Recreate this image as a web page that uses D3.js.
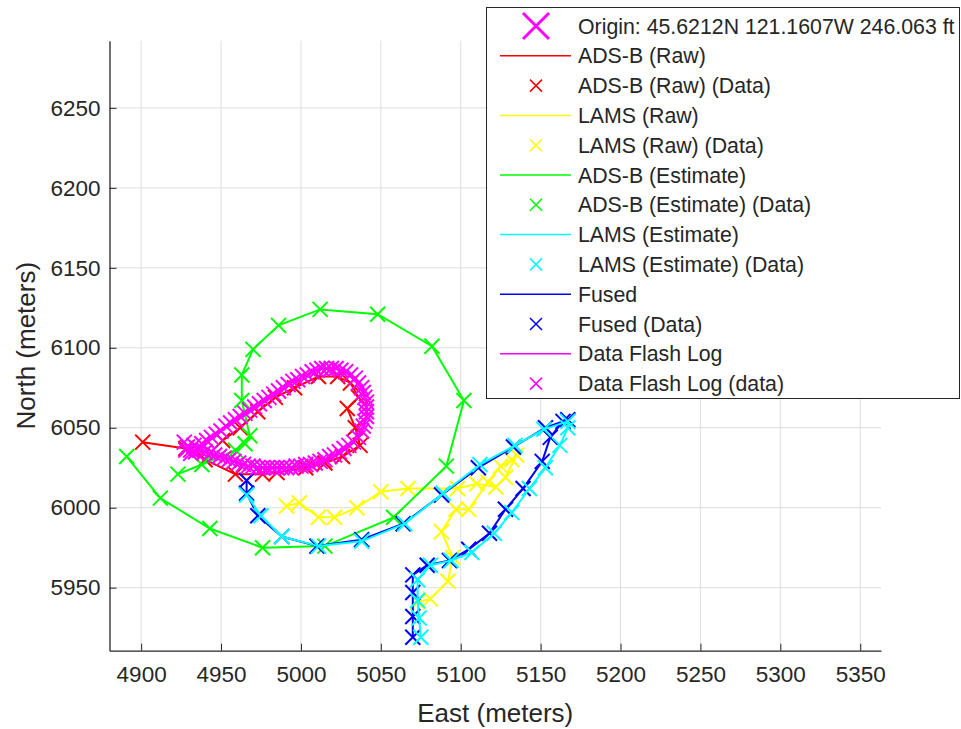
<!DOCTYPE html>
<html>
<head>
<meta charset="utf-8">
<script src="https://cdn.jsdelivr.net/npm/d3@7"></script>
<style>
  body { margin: 0; background: #fff; }
  svg { font-family: "Liberation Sans", Arial, sans-serif; }
</style>
</head>
<body>
<div id="chart"></div>
<script>
// values (east, north in meters)
var adsbRaw = [[4901,6041],[4928,6037],[4940,6030],[4959,6021],[4976,6021],[4985,6022],[5003,6025],[5015,6028],[5026,6032],[5037,6039],[5034,6050],[5029,6062],[5036,6069],[5031,6078],[5023,6082],[5011,6082],[4996,6075],[4984,6069],[4973,6060],[4962,6050],[4951,6042]];
var lamsRaw = [[5073,5941],[5081,5943],[5092,5954],[5095,5969],[5088,5985],[5097,5999],[5105,5999],[5117,6016],[5125,6026],[5132,6030],[5135,6033],[5128,6019],[5122,6013],[5110,6015],[5098,6012],[5067,6012],[5050,6010],[5035,6000],[5021,5994],[5011,5994],[4999,6003],[4991,6001]];
var adsbEst = [[4891,6032],[4912,6006],[4943,5987],[4976,5975],[5015,5976],[5058,5994],[5091,6026],[5102,6067],[5082,6101],[5048,6121],[5012,6124],[4986,6114],[4970,6099],[4963,6083],[4963,6067],[4968,6045],[4965,6040],[4959,6036],[4938,6027],[4923,6021]];
var lamsEst = [[5075,5919],[5074,5931],[5073,5942],[5073,5955],[5081,5964],[5094,5967],[5107,5972],[5121,5984],[5132,5997],[5143,6012],[5153,6025],[5162,6039],[5167,6050],[5167,6054],[5152,6049],[5134,6039],[5112,6027],[5089,6009],[5065,5990],[5038,5979],[5011,5976],[4988,5982],[4975,5995],[4966,6008]];
var fused = [[5070,5919],[5070,5932],[5070,5947],[5070,5958],[5079,5964],[5093,5967],[5105,5974],[5118,5984],[5128,5999],[5139,6012],[5151,6029],[5156,6044],[5164,6054],[5167,6055],[5153,6050],[5133,6038],[5111,6025],[5088,6008],[5064,5990],[5038,5980],[5010,5976],[4988,5982],[4973,5995],[4966,6009],[4966,6017]];
var flashLog = [[4927,6041],[4929,6038],[4931,6036],[4933,6039],[4935,6037],[4938,6040],[4941,6042],[4944,6044],[4947,6046],[4950,6048],[4953,6051],[4956,6053],[4959,6055],[4962,6057],[4965,6059],[4968,6061],[4971,6063],[4974,6065],[4977,6067],[4980,6069],[4983,6071],[4986,6073],[4989,6075],[4992,6077],[4995,6079],[4998,6080],[5001,6082],[5004,6083],[5007,6085],[5010,6086],[5013,6087],[5016,6087],[5019,6087],[5022,6087],[5025,6086],[5028,6085],[5031,6083],[5034,6081],[5036,6078],[5038,6075],[5039,6072],[5040,6069],[5041,6066],[5041,6063],[5041,6060],[5041,6057],[5040,6054],[5039,6051],[5038,6048],[5036,6044],[5033,6041],[5030,6039],[5027,6037],[5024,6035],[5021,6033],[5018,6032],[5015,6030],[5012,6029],[5009,6028],[5006,6027],[5003,6027],[5000,6026],[4997,6026],[4994,6025],[4991,6025],[4988,6025],[4985,6025],[4982,6025],[4979,6025],[4976,6025],[4973,6025],[4970,6026],[4967,6026],[4964,6027],[4961,6028],[4958,6029],[4955,6030],[4952,6031],[4949,6032],[4946,6033],[4943,6034],[4940,6035],[4937,6036],[4934,6035],[4931,6034],[4928,6036]];

var xTicks = [4900,4950,5000,5050,5100,5150,5200,5250,5300,5350];
var yTicks = [5950,6000,6050,6100,6150,6200,6250];
var legendLabels = ["Origin: 45.6212N 121.1607W 246.063 ft","ADS-B (Raw)","ADS-B (Raw) (Data)","LAMS (Raw)","LAMS (Raw) (Data)","ADS-B (Estimate)","ADS-B (Estimate) (Data)","LAMS (Estimate)","LAMS (Estimate) (Data)","Fused","Fused (Data)","Data Flash Log","Data Flash Log (data)"];

var W = 961, H = 729;
var plotLeft = 109.5, plotRight = 881, plotTop = 40.7, plotBottom = 650.7;

var x = d3.scaleLinear().domain([4880.2, 5363]).range([plotLeft, plotRight]);
var y = d3.scaleLinear().domain([5910.6, 6292]).range([plotBottom, plotTop]);

var svg = d3.select("#chart").append("svg")
    .attr("width", W)
    .attr("height", H);

// grid
svg.append("g").selectAll("line")
    .data(xTicks).enter().append("line")
    .attr("x1", function (d) { return x(d); }).attr("x2", function (d) { return x(d); })
    .attr("y1", plotTop).attr("y2", plotBottom)
    .style("stroke", "#dedede").style("stroke-width", 1);
svg.append("g").selectAll("line")
    .data(yTicks).enter().append("line")
    .attr("y1", function (d) { return y(d); }).attr("y2", function (d) { return y(d); })
    .attr("x1", plotLeft).attr("x2", plotRight)
    .style("stroke", "#dedede").style("stroke-width", 1);

// axes, ticks pointing inward like matlab
var xAxis = svg.append("g")
    .attr("transform", "translate(0," + plotBottom + ")")
    .call(d3.axisBottom(x).tickValues(xTicks).tickFormat(d3.format("d"))
        .tickSizeInner(-7).tickSizeOuter(0).tickPadding(15));
var yAxis = svg.append("g")
    .attr("transform", "translate(" + plotLeft + ",0)")
    .call(d3.axisLeft(y).tickValues(yTicks).tickFormat(d3.format("d"))
        .tickSizeInner(-7).tickSizeOuter(0).tickPadding(9));
[xAxis, yAxis].forEach(function (a) {
    a.select(".domain").style("stroke", "#262626").style("stroke-width", 1.3);
    a.selectAll(".tick line").style("stroke", "#262626");
    a.selectAll("text").style("font-size", "22.5px").style("fill", "#262626")
        .style("font-family", "Liberation Sans, Arial, sans-serif");
});

svg.append("text")
    .attr("x", (plotLeft + plotRight) / 2).attr("y", 722)
    .attr("text-anchor", "middle")
    .style("font-size", "26px").style("fill", "#262626")
    .text("East (meters)");
svg.append("text")
    .attr("transform", "translate(35," + ((plotTop + plotBottom) / 2) + ") rotate(-90)")
    .attr("text-anchor", "middle")
    .style("font-size", "26px").style("fill", "#262626")
    .text("North (meters)");

// series, drawn in this order so cyan sits over blue and magenta on top
var series = [
    { data: adsbRaw, color: "#ff0000" },
    { data: lamsRaw, color: "#ffff00" },
    { data: adsbEst, color: "#00ff00" },
    { data: fused, color: "#0000ff" },
    { data: lamsEst, color: "#00ffff" },
    { data: flashLog, color: "#ff00ff" }
];

var line = d3.line()
    .x(function (d) { return x(d[0]); })
    .y(function (d) { return y(d[1]); });

function xMark(s) {
    return "M" + (-s) + "," + (-s) + "L" + s + "," + s + "M" + (-s) + "," + s + "L" + s + "," + (-s);
}

var plot = svg.append("g");
series.forEach(function (s) {
    plot.append("path")
        .attr("d", line(s.data))
        .style("fill", "none")
        .style("stroke", s.color)
        .style("stroke-width", 2);
    plot.append("g").selectAll("path")
        .data(s.data).enter().append("path")
        .attr("transform", function (d) { return "translate(" + x(d[0]) + "," + y(d[1]) + ")"; })
        .attr("d", xMark(7.5))
        .style("fill", "none")
        .style("stroke", s.color)
        .style("stroke-width", 2);
});

// legend
var legendColors = ["#ff00ff","#ff0000","#ff0000","#ffff00","#ffff00","#00ff00","#00ff00","#00ffff","#00ffff","#0000ff","#0000ff","#ff00ff","#ff00ff"];
var lg = svg.append("g");
lg.append("rect")
    .attr("x", 486.5).attr("y", 7.5).attr("width", 473).attr("height", 391)
    .style("fill", "#fff").style("stroke", "#262626").style("stroke-width", 1);

var rows = lg.selectAll("g.row")
    .data(legendLabels).enter().append("g")
    .attr("class", "row")
    .attr("transform", function (d, i) { return "translate(0," + (26 + i * 29.8) + ")"; });

rows.append("text")
    .attr("x", 578).attr("y", 7.5)
    .style("font-size", "21.3px").style("fill", "#262626")
    .text(function (d) { return d; });

rows.each(function (d, i) {
    var g = d3.select(this);
    if (i === 0) {
        g.append("path").attr("transform", "translate(536,0)")
            .attr("d", xMark(13))
            .style("stroke", legendColors[i]).style("stroke-width", 3).style("fill", "none");
    } else if (i % 2 === 1) {
        g.append("line").attr("x1", 500).attr("x2", 571).attr("y1", 0).attr("y2", 0)
            .style("stroke", legendColors[i]).style("stroke-width", 1.5);
    } else {
        g.append("path").attr("transform", "translate(536,0)")
            .attr("d", xMark(6))
            .style("stroke", legendColors[i]).style("stroke-width", 1.5).style("fill", "none");
    }
});
</script>
</body>
</html>
